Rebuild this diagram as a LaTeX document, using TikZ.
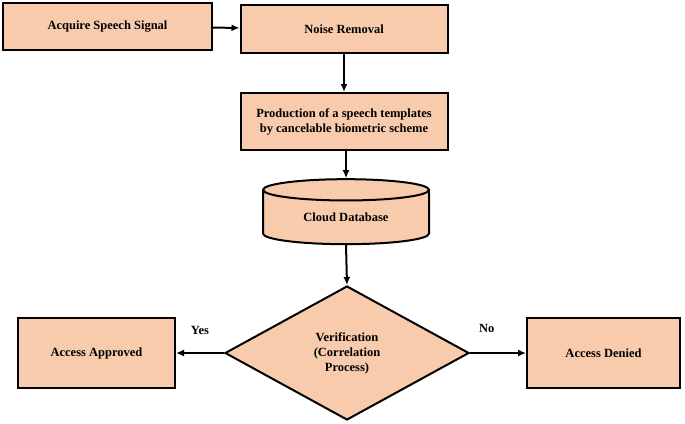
\documentclass[tikz,border=0pt]{standalone}
\usepackage{fontspec}
\setmainfont{Liberation Serif}
\usetikzlibrary{shapes.geometric,positioning,arrows.meta}
\definecolor{peach}{HTML}{F8CBAD}
\tikzset{
 stepbox/.style={draw=black,line width=2pt,fill=peach,font=\bfseries\fontsize{12.5}{15}\selectfont,align=center,inner sep=0},
 flow/.style={-{Latex[length=8pt,width=7pt]},line width=2pt}
}
\begin{document}
\begin{tikzpicture}[x=1pt,y=-1pt]
 \useasboundingbox (0,0) rectangle (685,423);
% Boxes
 \node[stepbox,minimum width=209,minimum height=47] (acq) at (107.5,26.5) {Acquire Speech Signal};
 \node[stepbox,minimum width=207,minimum height=48] (noise) at (344,29) {Noise Removal};
 \node[stepbox,minimum width=207,minimum height=57] (prod) at (344,121.5) {Production of a speech templates\\by cancelable biometric scheme};
 \node[stepbox,cylinder,shape border rotate=90,aspect=0.25,minimum width=166,minimum height=65] (cloud) at (346,217.5) {Cloud Database};
 \node[stepbox,diamond,aspect=1.82,minimum width=244,minimum height=134] (ver) at (347,353) {Verification\\(Correlation\\Process)};
 \node[stepbox,minimum width=157,minimum height=70] (appr) at (96.5,353) {Access Approved};
 \node[stepbox,minimum width=153,minimum height=70] (deny) at (603.5,353) {Access Denied};
% Arrows
 \draw[flow] (acq) -- (noise);
 \draw[flow] (noise) -- (prod);
 \draw[flow] (prod.south -| cloud) -- (cloud.top);
 \draw[flow] (cloud.bottom) -- (ver.north);
 \draw[flow] (ver) -- (appr) node[pos=0.5,above=14pt,font=\bfseries\fontsize{12.5}{15}\selectfont] {Yes};
 \draw[flow] (ver) -- (deny) node[pos=0.3,above=16pt,font=\bfseries\fontsize{12.5}{15}\selectfont] {No};
\end{tikzpicture}
\end{document}
